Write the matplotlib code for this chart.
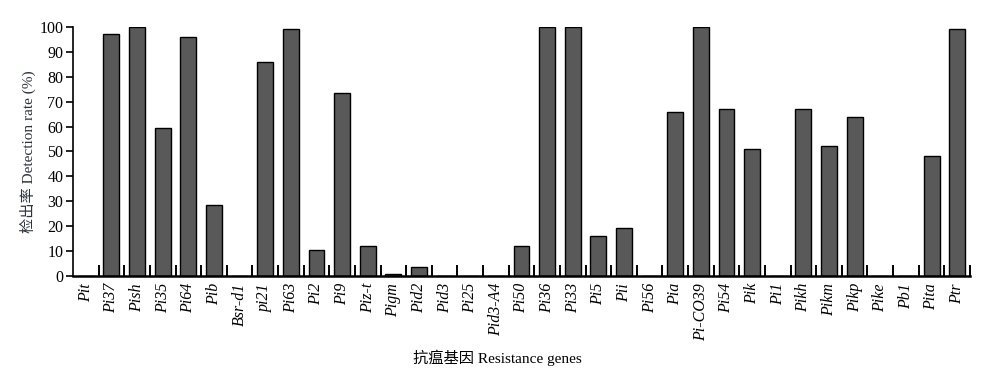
import numpy as np
import matplotlib
matplotlib.use("Agg")
import matplotlib.pyplot as plt

# resistance genes and their detection rates (%)
genes = ["Pit", "Pi37", "Pish", "Pi35", "Pi64", "Pib", "Bsr-d1", "pi21", "Pi63",
         "Pi2", "Pi9", "Piz-t", "Pigm", "Pid2", "Pid3", "Pi25", "Pid3-A4", "Pi50",
         "Pi36", "Pi33", "Pi5", "Pii", "Pi56", "Pia", "Pi-CO39", "Pi54", "Pik",
         "Pi1", "Pikh", "Pikm", "Pikp", "Pike", "Pb1", "Pita", "Ptr"]
rates = [0, 97, 100, 59.5, 96, 28.5, 0, 86, 99,
         10.5, 73.5, 12, 1, 3.5, 0, 0, 0, 12,
         100, 100, 16, 19.5, 0, 66, 100, 67, 51,
         0, 67, 52, 64, 0, 0, 48, 99]
yticks = list(range(0, 101, 10))

# serif for latin text, CJK font as fallback for the Chinese characters
plt.rcParams["font.family"] = ["Liberation Serif", "Noto Sans CJK SC"]

fig = plt.figure(figsize=(10, 3.83), dpi=100)
ax = fig.add_axes([0.073, 0.279, 0.897, 0.651])

x = np.arange(len(genes))
ax.bar(x, rates, width=0.62, color="#595959", edgecolor="black", linewidth=1.0)

ax.set_xlim(-0.5, len(genes) - 0.5)
ax.set_ylim(0, 100)
ax.set_yticks(yticks)
ax.tick_params(axis="y", direction="out", length=5, width=1.2, labelsize=11.5, pad=2)

ax.set_xticks(x)
ax.set_xticklabels(genes, rotation=90, fontstyle="italic", fontsize=11.5)
ax.tick_params(axis="x", which="major", length=0, pad=5)
ax.set_xticks(np.arange(0.5, len(genes), 1.0), minor=True)
ax.tick_params(axis="x", which="minor", direction="in", length=8, width=1.4)

for s in ["top", "right"]:
    ax.spines[s].set_visible(False)
ax.spines["left"].set_linewidth(1.2)
ax.spines["bottom"].set_linewidth(1.8)

ax.set_ylabel("检出率 Detection rate (%)", fontsize=11, color="#2b3340", labelpad=2)
fig.text(0.497, 0.067, "抗瘟基因 Resistance genes", ha="center", va="center",
         fontsize=11)

fig.savefig("out.png", dpi=100)
